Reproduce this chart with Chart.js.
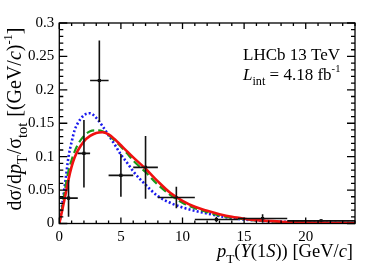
<!DOCTYPE html>
<html>
<head>
<meta charset="utf-8">
<script src="https://cdn.jsdelivr.net/npm/chart.js"></script>
<style>
  html, body { margin: 0; padding: 0; background: #fff; }
  canvas { display: block; }
  .fontwarm { position: absolute; left: -999px; top: 0; font-family: "Liberation Serif"; }
</style>
</head>
<body>
<span class="fontwarm">0.25 LHCb <i>p</i> σ Υ</span>
<canvas id="chart" width="374" height="270"></canvas>
<script>
// pT grid for the theory curves
const curveX = [0, 0.25, 0.5, 0.75, 1, 1.25, 1.5, 2, 2.5, 3, 3.5, 4, 4.5, 5, 5.5, 6, 7, 8, 9, 10, 11, 12, 13, 14, 15, 16, 18, 20, 22, 24];
const redCurve   = [0, 0.021, 0.043, 0.066, 0.085, 0.099, 0.109, 0.123, 0.131, 0.1355, 0.1365, 0.1335, 0.126, 0.117, 0.108, 0.099, 0.082, 0.063, 0.046, 0.034, 0.025, 0.019, 0.014, 0.010, 0.0072, 0.005, 0.0027, 0.0014, 0.0008, 0.0004];
const greenCurve = [0, 0.026, 0.055, 0.079, 0.095, 0.108, 0.118, 0.131, 0.138, 0.1395, 0.138, 0.132, 0.124, 0.115, 0.105, 0.094, 0.077, 0.058, 0.043, 0.031, 0.023, 0.017, 0.012, 0.0088, 0.0063, 0.0045, 0.0023, 0.0012, 0.0006, 0.0003];
const blueCurve  = [0, 0.030, 0.064, 0.100, 0.122, 0.140, 0.150, 0.162, 0.165, 0.158, 0.146, 0.132, 0.118, 0.103, 0.091, 0.078, 0.058, 0.041, 0.031, 0.024, 0.019, 0.015, 0.011, 0.008, 0.006, 0.0045, 0.0027, 0.0016, 0.001, 0.0006];

// measured points
const ptX  = [0.75, 2, 3.25, 5, 7, 9.5, 12.75, 16.5, 21.25];
const ptY  = [0.038, 0.105, 0.214, 0.072, 0.084, 0.039, 0.006, 0.0075, 0.004];
const xLow = [0, 1.5, 2.5, 4, 6, 8, 11, 14.5, 18.5];
const xHigh = [1.5, 2.5, 4, 6, 8, 11, 14.5, 18.5, 24];
const yLow = [0.010, 0.054, 0.152, 0.040, 0.037, 0.023, 0.002, 0.001, 0.002];
const yHigh = [0.065, 0.155, 0.274, 0.104, 0.131, 0.055, 0.010, 0.014, 0.006];

// axis ticks
const xTicks = [0, 5, 10, 15, 20];
const xTickLabels = ['0', '5', '10', '15', '20'];
const yTicks = [0, 0.05, 0.1, 0.15, 0.2, 0.25, 0.3];
const yTickLabels = ['0', '0.05', '0.1', '0.15', '0.2', '0.25', '0.3'];

const SERIF = '"Liberation Serif", "Times New Roman", "DejaVu Serif", serif';

const toXY = ys => curveX.map((x, i) => ({ x: x, y: ys[i] }));

// draw a run of text pieces with sub/superscripts
function drawRich(ctx, segs, x, y, size) {
    let cx = x;
    segs.forEach(s => {
        let sz = size, dy = 0;
        if (s.sub) { sz = size * 0.72; dy = size * 0.32; }
        if (s.sup) { sz = size * 0.62; dy = -size * 0.45; }
        ctx.font = (s.it ? 'italic ' : '') + sz + 'px ' + SERIF;
        ctx.fillText(s.t, cx, y + dy);
        cx += ctx.measureText(s.t).width + (s.gap || 0);
    });
    return cx - x;
}
function richWidth(ctx, segs, size) {
    let w = 0;
    segs.forEach(s => {
        let sz = s.sub ? size * 0.72 : (s.sup ? size * 0.62 : size);
        ctx.font = (s.it ? 'italic ' : '') + sz + 'px ' + SERIF;
        w += ctx.measureText(s.t).width + (s.gap || 0);
    });
    return w;
}

const yTitle = [
    { t: 'd\u03C3/d' }, { t: 'p', it: true }, { t: 'T', sub: true, gap: 1 },
    { t: '/\u03C3' }, { t: 'tot', sub: true, gap: 1 },
    { t: ' [(GeV/' }, { t: 'c', it: true }, { t: ')' }, { t: '-1', sup: true }, { t: ']' }
];
const xTitle = [
    { t: 'p', it: true }, { t: 'T', sub: true }, { t: '(' }, { t: '\u03A5', it: true },
    { t: '(1' }, { t: 'S', it: true }, { t: ')) [GeV/' }, { t: 'c', it: true }, { t: ']' }
];
const lumiText = [
    { t: 'L', it: true }, { t: 'int', sub: true }, { t: ' = 4.18 fb' }, { t: '-1', sup: true }
];

// frame, ROOT-style inner ticks, error bars and labels
const decorPlugin = {
    id: 'decor',
    afterDatasetsDraw(chart) {
        const ctx = chart.ctx;
        const a = chart.chartArea;
        const xs = chart.scales.x, ys = chart.scales.y;

        // error bars
        ctx.save();
        ctx.strokeStyle = '#111';
        ctx.lineWidth = 1.6;
        ptX.forEach((x, i) => {
            const px = xs.getPixelForValue(x), py = ys.getPixelForValue(ptY[i]);
            ctx.beginPath();
            ctx.moveTo(xs.getPixelForValue(xLow[i]), py);
            ctx.lineTo(xs.getPixelForValue(xHigh[i]), py);
            ctx.moveTo(px, ys.getPixelForValue(yLow[i]));
            ctx.lineTo(px, ys.getPixelForValue(yHigh[i]));
            ctx.stroke();
        });
        ctx.restore();

        // frame + ticks
        ctx.save();
        ctx.strokeStyle = '#000';
        ctx.lineWidth = 1.3;
        ctx.strokeRect(a.left, a.top, a.right - a.left, a.bottom - a.top);
        ctx.beginPath();
        for (let v = 0; v <= 24; v += 1) {
            const px = xs.getPixelForValue(v);
            const len = v % 5 === 0 ? 6 : 3;
            ctx.moveTo(px, a.bottom); ctx.lineTo(px, a.bottom - len);
            ctx.moveTo(px, a.top); ctx.lineTo(px, a.top + len);
        }
        for (let k = 0; k <= 30; k++) {
            const py = ys.getPixelForValue(k / 100);
            const len = k % 5 === 0 ? 8 : 4;
            ctx.moveTo(a.left, py); ctx.lineTo(a.left + len, py);
            ctx.moveTo(a.right, py); ctx.lineTo(a.right - len, py);
        }
        ctx.stroke();
        ctx.restore();

        // texts
        ctx.save();
        ctx.fillStyle = '#000';
        ctx.textBaseline = 'alphabetic';
        ctx.textAlign = 'left';
        ctx.font = '17px ' + SERIF;
        ctx.fillText('LHCb 13 TeV', 243, 60);
        drawRich(ctx, lumiText, 243, 80, 17);

        const xw = richWidth(ctx, xTitle, 18.5);
        drawRich(ctx, xTitle, 353 - xw, 257, 18.5);

        ctx.translate(21, 119);
        ctx.rotate(-Math.PI / 2);
        const yw = richWidth(ctx, yTitle, 20);
        drawRich(ctx, yTitle, -yw / 2, 0, 20);
        ctx.restore();
    }
};

function build() {
    new Chart(document.getElementById('chart'), {
        type: 'scatter',
        data: {
            datasets: [
                {
                    type: 'line', data: toXY(redCurve), borderColor: '#f01010', borderWidth: 2.6,
                    pointRadius: 0, fill: false, cubicInterpolationMode: 'monotone'
                },
                {
                    type: 'line', data: toXY(greenCurve), borderColor: '#1a9a1a', borderWidth: 2.2,
                    borderDash: [8, 4], pointRadius: 0, fill: false, cubicInterpolationMode: 'monotone'
                },
                {
                    type: 'line', data: toXY(blueCurve), borderColor: '#1a1aee', borderWidth: 2.6,
                    borderDash: [2, 2.2], pointRadius: 0, fill: false, cubicInterpolationMode: 'monotone'
                },
                {
                    data: ptX.map((x, i) => ({ x: x, y: ptY[i] })),
                    pointStyle: 'rect', pointRadius: 2.2, backgroundColor: '#000', borderColor: '#000', borderWidth: 0
                }
            ]
        },
        options: {
            responsive: false,
            animation: false,
            devicePixelRatio: 1,
            layout: { padding: { top: 23, right: 19, left: 0, bottom: 0 } },
            plugins: { legend: { display: false }, tooltip: { enabled: false } },
            scales: {
                x: {
                    type: 'linear', min: 0, max: 24,
                    grid: { display: false, drawTicks: false }, border: { display: false },
                    afterBuildTicks: s => { s.ticks = xTicks.map(v => ({ value: v })); },
                    afterFit: s => { s.height = 46.5; },
                    ticks: {
                        padding: 5, color: '#000', maxRotation: 0,
                        font: { family: SERIF, size: 15 },
                        callback: v => xTickLabels[xTicks.indexOf(v)]
                    }
                },
                y: {
                    type: 'linear', min: 0, max: 0.3,
                    grid: { display: false, drawTicks: false }, border: { display: false },
                    afterBuildTicks: s => { s.ticks = yTicks.map(v => ({ value: v })); },
                    afterFit: s => { s.width = 59.3; },
                    ticks: {
                        padding: 5, color: '#000',
                        font: { family: SERIF, size: 15 },
                        callback: v => yTickLabels[yTicks.findIndex(t => Math.abs(t - v) < 1e-9)]
                    }
                }
            }
        },
        plugins: [decorPlugin]
    });
}

Promise.all([
    document.fonts.load('15px "Liberation Serif"'),
    document.fonts.load('italic 15px "Liberation Serif"')
]).then(build, build);
</script>
</body>
</html>
